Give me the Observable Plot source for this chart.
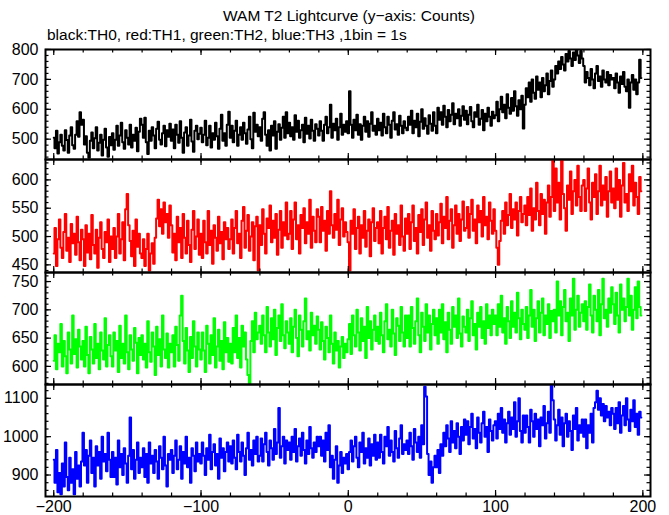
<!DOCTYPE html>
<html>
<head>
<meta charset="utf-8">
<script src="https://cdn.jsdelivr.net/npm/d3@7"></script>
<script src="https://cdn.jsdelivr.net/npm/@observablehq/plot@0.6"></script>
<style>
  html, body { margin: 0; padding: 0; background: #fff; }
  #chart { position: relative; width: 669px; height: 515px; overflow: hidden; background: #fff; font-family: "Liberation Sans", Arial, sans-serif; }
  #title { position: absolute; left: 0; width: 698px; top: 7px; text-align: center; font-size: 15.5px; color: #000; }
  #subtitle { position: absolute; left: 47px; top: 26px; font-size: 15.5px; color: #000; }
</style>
</head>
<body>
<div id="chart">
  <div id="title">WAM T2 Lightcurve (y−axis: Counts)</div>
  <div id="subtitle">black:TH0, red:TH1, green:TH2, blue:TH3 ,1bin = 1s</div>
</div>
<script>
// time of first bin (s); one bin = 1 s
const TIME_START = -200;

// TH0 (black) counts per 1-s bin, t = -200 .. 199
const th0 = [
505,470,528,452,490,515,478,462,530,497,455,512,540,480,468,515,560,508,590,548,
565,482,510,455,438,495,522,470,503,540,462,488,515,445,498,535,472,441,507,480,
520,465,498,545,478,512,555,490,468,530,505,482,548,472,515,495,538,460,525,568,
548,505,572,490,450,528,495,540,512,470,535,558,498,482,520,545,476,530,508,552,
495,532,470,548,515,488,560,505,455,522,540,478,512,565,492,458,528,545,500,518,
538,490,515,562,480,505,545,472,520,498,555,510,468,535,582,495,520,478,548,592,
505,545,490,528,562,478,515,540,498,555,520,485,532,575,500,470,588,525,548,510,
540,495,568,590,515,478,530,462,545,512,560,468,525,550,498,538,575,505,590,520,
555,510,540,498,580,525,562,505,530,548,490,572,518,545,502,565,528,495,550,535,
512,560,528,495,548,575,520,540,615,505,552,530,568,498,540,585,515,548,525,560,
520,660,548,505,565,530,582,515,550,498,545,575,525,560,508,552,590,528,545,515,
568,530,555,512,585,540,520,575,548,505,562,590,532,550,515,578,545,520,560,538,
530,575,548,595,520,562,540,585,510,558,600,535,570,545,518,580,552,528,590,545,
520,605,565,590,548,612,575,540,598,560,582,620,550,585,570,600,545,578,610,565,
595,550,582,608,560,540,590,575,615,548,568,598,530,585,560,605,575,545,592,570,
580,625,560,600,642,590,615,570,650,605,585,638,595,660,610,578,630,600,645,536,
615,670,640,690,625,700,655,635,710,665,690,640,705,660,680,720,650,695,730,675,
700,745,720,760,735,775,750,730,785,760,795,770,745,790,765,800,780,755,795,770,
745,690,725,705,680,735,700,670,720,745,695,710,675,730,700,690,725,680,715,700,
705,670,720,690,655,710,685,725,675,660,700,605,690,715,665,700,650,690,766,705
];

// TH1 (red)
const th1 = [
470,515,448,495,530,480,462,508,540,475,498,455,522,488,505,468,535,490,458,512,
495,448,520,472,505,460,538,485,470,512,445,498,525,478,462,508,490,530,455,500,
478,515,462,500,540,470,495,525,458,548,575,520,492,465,510,448,530,482,505,470,
462,495,448,478,505,440,470,488,452,498,532,565,518,548,505,560,525,540,498,555,
520,472,505,458,535,490,515,462,540,498,470,528,485,455,512,545,478,500,530,468,
505,462,528,490,470,545,485,510,452,520,498,475,535,488,508,460,525,495,515,478,
495,530,470,515,545,488,505,462,528,552,480,510,538,475,500,525,458,518,535,440,
520,485,548,505,470,532,515,555,490,528,498,540,468,512,545,480,525,502,560,495,
505,545,478,530,560,495,520,470,538,515,550,488,525,505,565,480,535,510,490,548,
535,490,552,510,528,475,545,505,580,520,498,540,512,565,485,530,550,500,525,508,
490,440,528,505,548,478,515,535,470,520,498,545,482,510,530,465,525,550,492,515,
525,488,545,470,515,535,495,552,480,510,528,468,540,505,520,485,555,500,475,532,
505,540,478,525,555,492,515,470,538,508,548,485,530,560,498,520,475,545,510,495,
540,502,525,558,488,535,515,570,495,528,548,480,520,555,505,540,492,530,562,510,
515,552,498,540,565,510,530,488,555,525,545,500,570,520,535,495,560,528,505,548,
510,480,450,492,528,545,505,560,520,538,575,515,548,530,560,502,545,570,525,540,
555,520,570,538,585,510,550,530,595,545,520,575,540,565,505,560,590,535,570,635,
545,620,560,595,530,635,575,550,510,590,565,615,540,580,600,555,625,570,545,590,
600,545,585,620,560,530,595,570,610,540,580,625,555,590,565,605,535,580,615,560,
585,550,620,565,600,535,590,630,560,575,545,610,580,625,555,595,570,540,605,580
];

// TH2 (green)
const th2 = [
610,655,595,640,625,675,600,645,618,588,660,630,605,690,622,648,598,665,635,612,
645,600,670,620,588,652,630,605,675,615,640,595,660,628,612,685,600,638,655,618,
600,660,628,645,590,672,615,640,605,690,625,595,655,630,610,668,642,588,650,620,
655,612,640,598,680,625,608,660,635,585,670,620,648,600,690,630,615,658,598,640,
625,655,600,670,638,610,690,725,645,605,668,628,590,652,615,680,635,600,660,630,
612,660,628,590,672,640,605,655,620,685,598,635,665,610,645,595,678,625,650,608,
640,605,668,625,690,615,650,598,672,635,660,612,585,570,645,680,625,695,648,660,
672,640,690,655,625,705,660,635,685,648,700,620,668,690,645,710,655,632,680,660,
640,685,625,670,700,650,618,690,665,635,680,720,648,662,628,695,655,672,640,688,
665,630,678,645,612,670,650,625,690,640,605,660,628,645,598,635,652,615,640,625,
648,675,622,690,655,635,700,660,628,685,645,670,615,705,650,680,630,665,690,645,
670,640,695,655,625,680,710,648,665,635,700,658,620,685,672,645,705,660,635,690,
650,690,635,705,668,640,680,720,655,625,695,670,645,710,660,690,630,675,700,655,
685,640,700,660,710,648,678,625,695,665,640,705,670,690,650,720,658,635,688,670,
660,700,645,685,715,655,675,630,695,670,705,650,680,640,710,668,690,655,700,675,
690,655,710,670,725,660,685,640,705,680,650,715,670,695,660,730,685,648,700,675,
665,705,650,690,735,670,700,645,685,715,660,695,720,655,690,675,710,650,698,680,
700,660,750,690,715,655,705,735,680,695,645,720,690,755,665,700,725,670,695,710,
680,715,665,705,745,690,660,725,700,680,735,655,710,755,685,700,670,720,695,740,
710,675,730,690,660,745,700,720,680,705,755,690,725,665,700,740,685,750,705,690
];

// TH3 (blue)
const th3 = [
940,880,965,855,905,850,930,870,985,895,860,945,880,915,850,960,890,925,870,935,
1010,925,965,880,950,990,905,945,870,975,925,960,890,1000,935,955,910,1010,940,895,
960,895,945,875,990,920,955,900,970,930,880,950,1050,915,965,890,940,985,905,945,
920,970,895,955,880,985,930,950,905,965,935,890,975,945,915,1000,925,870,955,940,
965,905,950,990,915,940,975,890,960,930,1000,920,945,880,970,950,910,985,935,955,
930,985,950,900,970,940,1005,915,960,980,925,955,890,995,945,970,910,960,985,935,
975,930,990,945,915,1005,960,935,985,950,900,970,1010,940,965,925,990,955,1000,935,
950,995,935,980,1010,960,925,990,970,940,1020,955,985,1075,945,975,1000,930,990,965,
985,940,1000,960,1020,935,975,995,950,1010,965,930,990,955,1025,970,945,985,960,1000,
975,1000,950,990,935,1010,965,1030,920,950,890,940,975,880,925,960,905,945,930,955,
915,960,990,935,975,1000,945,920,985,960,1010,930,970,945,995,925,980,950,1005,940,
985,945,1005,960,930,1000,975,1025,950,990,960,935,1015,970,945,995,1030,955,980,965,
990,955,1010,975,940,1020,985,960,1000,945,1030,980,1130,1105,955,900,935,880,920,950,
920,965,905,980,950,1010,975,1030,995,960,1040,985,1015,970,1035,1000,955,1025,990,1045,
1005,1040,980,1025,1060,995,1020,970,1050,1010,985,1035,1065,1000,1025,960,1045,1015,990,1030,
1040,995,1060,1020,1075,1010,1045,985,1035,1065,1005,1050,1020,1090,1000,1040,1100,1015,985,1055,
1010,1055,1025,985,1070,1040,1000,1060,1020,1045,975,1050,1030,1080,995,1035,1065,1010,1135,1095,
1045,990,1030,1070,1005,1050,975,1035,1060,1000,1040,1015,965,1055,1020,1075,990,1030,1010,1045,
1000,1045,970,1030,1010,1060,985,1075,1090,1120,1070,1100,1055,1085,1040,1080,1050,1065,1030,1075,
1060,1020,1075,1035,1090,1010,1055,1080,1030,1100,1045,1015,1070,1040,1095,1025,1060,1005,1065,1050
];

// axis tick labels
const xTickLabels = [-200, -100, 0, 100, 200];
const xMinorTicks = [-200,-180,-160,-140,-120,-100,-80,-60,-40,-20,0,20,40,60,80,100,120,140,160,180,200];
const yTicks0 = [500, 600, 700, 800];
const yTicks1 = [450, 500, 550, 600];
const yTicks2 = [600, 650, 700, 750];
const yTicks3 = [900, 1000, 1100];

const panels = [
  {values: th0, color: "#000000", domain: [432, 800], ticks: yTicks0, minor: 20, top: 49,  h: 110},
  {values: th1, color: "#ff0000", domain: [436.5, 636], ticks: yTicks1, minor: 10, top: 159, h: 113},
  {values: th2, color: "#00ff00", domain: [568, 766], ticks: yTicks2, minor: 10, top: 272, h: 112},
  {values: th3, color: "#0000ff", domain: [844, 1136], ticks: yTicks3, minor: 20, top: 384, h: 112, last: true}
];

const ML = 45, MR = 19, W = 669;
const IW = W - ML - MR;
const fmt = d => d < 0 ? "\u2212" + Math.abs(d) : String(d);
const chart = document.getElementById("chart");

panels.forEach(p => {
  const mt = 4, mb = p.last ? 26 : 4;
  const rows = p.values.map((v, k) => ({t: TIME_START + k, v}));
  const yMinor = d3.range(Math.ceil(p.domain[0] / p.minor) * p.minor, p.domain[1] + 0.01, p.minor);
  const yMajor = p.ticks.filter(t => t >= p.domain[0] && t <= p.domain[1]);
  const MAJ = 6, MIN = 3.5;
  const svg = Plot.plot({
    width: W,
    height: p.h + mt + mb,
    marginLeft: ML,
    marginRight: MR,
    marginTop: mt,
    marginBottom: mb,
    style: {background: "none", fontFamily: "Liberation Sans, Arial, sans-serif", fontSize: "16px", color: "#000", overflow: "visible"},
    x: {domain: [-205.6, 205.2], axis: p.last ? "bottom" : null, ticks: xTickLabels, tickSize: 0, tickPadding: 4, tickFormat: fmt, label: null},
    y: {domain: p.domain, ticks: p.ticks, tickSize: 0, tickPadding: 7, tickFormat: fmt, label: null},
    marks: [
      Plot.lineY(rows, {x: "t", y: "v", curve: "step", stroke: p.color, strokeWidth: 2, clip: true}),
      // x ticks (top and bottom, inward)
      Plot.tickX(xMinorTicks, {x: d => d, insetBottom: p.h - MIN, stroke: "#000", strokeWidth: 1.2}),
      Plot.tickX(xMinorTicks, {x: d => d, insetTop: p.h - MIN, stroke: "#000", strokeWidth: 1.2}),
      Plot.tickX(xTickLabels, {x: d => d, insetBottom: p.h - MAJ, stroke: "#000", strokeWidth: 1.2}),
      Plot.tickX(xTickLabels, {x: d => d, insetTop: p.h - MAJ, stroke: "#000", strokeWidth: 1.2}),
      // y ticks (left and right, inward)
      Plot.tickY(yMinor, {y: d => d, insetRight: IW - MIN, stroke: "#000", strokeWidth: 1.2}),
      Plot.tickY(yMinor, {y: d => d, insetLeft: IW - MIN, stroke: "#000", strokeWidth: 1.2}),
      Plot.tickY(yMajor, {y: d => d, insetRight: IW - MAJ, stroke: "#000", strokeWidth: 1.2}),
      Plot.tickY(yMajor, {y: d => d, insetLeft: IW - MAJ, stroke: "#000", strokeWidth: 1.2}),
      Plot.frame({stroke: "#000", strokeWidth: 2})
    ]
  });
  svg.style.position = "absolute";
  svg.style.left = "0px";
  svg.style.top = (p.top - mt) + "px";
  chart.appendChild(svg);
});
</script>
</body>
</html>
